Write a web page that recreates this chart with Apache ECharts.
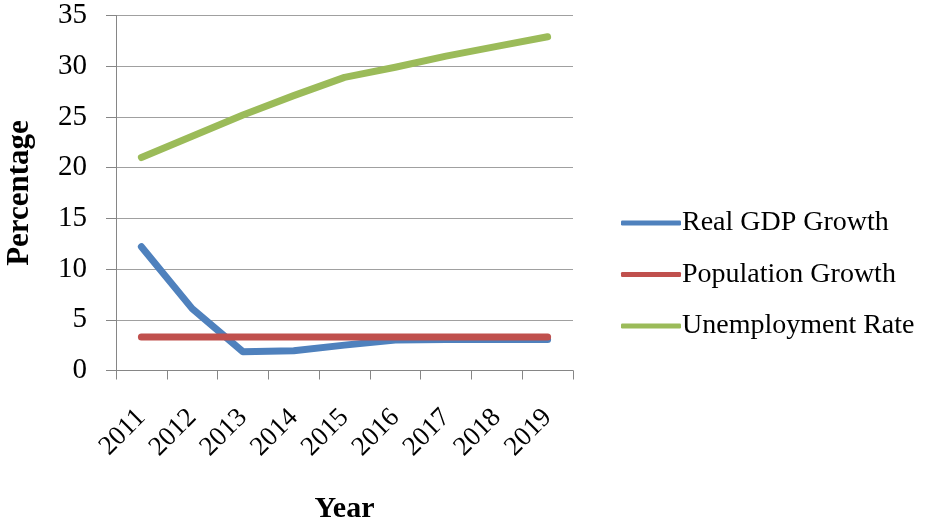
<!DOCTYPE html>
<html>
<head>
<meta charset="utf-8">
<script src="https://cdn.jsdelivr.net/npm/echarts@6/dist/echarts.min.js"></script>
<style>
html,body{margin:0;padding:0;background:#fff;}
#chart{width:947px;height:522px;}
</style>
</head>
<body>
<div id="chart"></div>
<script>
// Annual indicators, 2011-2019 (percent)
const years = ['2011', '2012', '2013', '2014', '2015', '2016', '2017', '2018', '2019'];
const realGdpGrowth = [12.2, 6.1, 1.85, 1.95, 2.5, 3.0, 3.05, 3.05, 3.05];
const populationGrowth = [3.3, 3.3, 3.3, 3.3, 3.3, 3.3, 3.3, 3.3, 3.3];
const unemploymentRate = [21.0, 23.1, 25.2, 27.1, 28.9, 29.9, 31.0, 31.95, 32.9];
const seriesNames = ['Real GDP Growth', 'Population Growth', 'Unemployment Rate'];
const seriesColors = ['#4F81BD', '#C0504D', '#9BBB59'];

const fontFamily = '"Liberation Serif", "DejaVu Serif", serif';
const axisGray = '#868686';

const chart = echarts.init(document.getElementById('chart'), null, { renderer: 'canvas' });

function lineSeries(name, data, color) {
  return {
    name: name,
    type: 'line',
    data: data,
    symbol: 'none',
    smooth: false,
    lineStyle: { color: color, width: 7, cap: 'round', join: 'round' },
    itemStyle: { color: color },
    emphasis: { disabled: true }
  };
}

chart.setOption({
  animation: false,
  textStyle: { fontFamily: fontFamily },
  grid: {
    left: 116, right: 374, top: 15.5, bottom: 151.5,
    containLabel: false,
    outerBoundsMode: 'none'
  },
  legend: {
    orient: 'vertical',
    left: 616,
    top: 204,
    itemWidth: 60,
    itemHeight: 5,
    itemGap: 23.5,
    icon: 'roundRect',
    data: seriesNames,
    textStyle: { fontFamily: fontFamily, fontSize: 28, color: '#000', padding: [0, 0, 0, -4] }
  },
  xAxis: {
    type: 'category',
    data: years,
    boundaryGap: true,
    name: 'Year',
    nameLocation: 'middle',
    nameGap: 124,
    nameTextStyle: { fontFamily: fontFamily, fontSize: 30, fontWeight: 'bold', color: '#000' },
    axisLine: { lineStyle: { color: axisGray, width: 1 } },
    axisTick: { show: true, length: 9, alignWithLabel: false, lineStyle: { color: axisGray } },
    axisLabel: { rotate: 45, margin: 43, fontSize: 27, color: '#000', fontFamily: fontFamily, interval: 0 },
    splitLine: { show: false }
  },
  yAxis: {
    type: 'value',
    min: 0,
    max: 35,
    interval: 5,
    name: 'Percentage',
    nameLocation: 'middle',
    nameGap: 81,
    nameRotate: 90,
    nameTextStyle: { fontFamily: fontFamily, fontSize: 31, fontWeight: 'bold', color: '#000' },
    axisLine: { show: true, lineStyle: { color: axisGray, width: 1 } },
    axisTick: { show: true, length: 10, lineStyle: { color: axisGray } },
    axisLabel: { fontSize: 29, color: '#000', fontFamily: fontFamily, margin: 29 },
    splitLine: { show: true, lineStyle: { color: '#a0a0a0', width: 1.2 } }
  },
  series: [
    lineSeries(seriesNames[0], realGdpGrowth, seriesColors[0]),
    lineSeries(seriesNames[1], populationGrowth, seriesColors[1]),
    lineSeries(seriesNames[2], unemploymentRate, seriesColors[2])
  ]
});
</script>
</body>
</html>
